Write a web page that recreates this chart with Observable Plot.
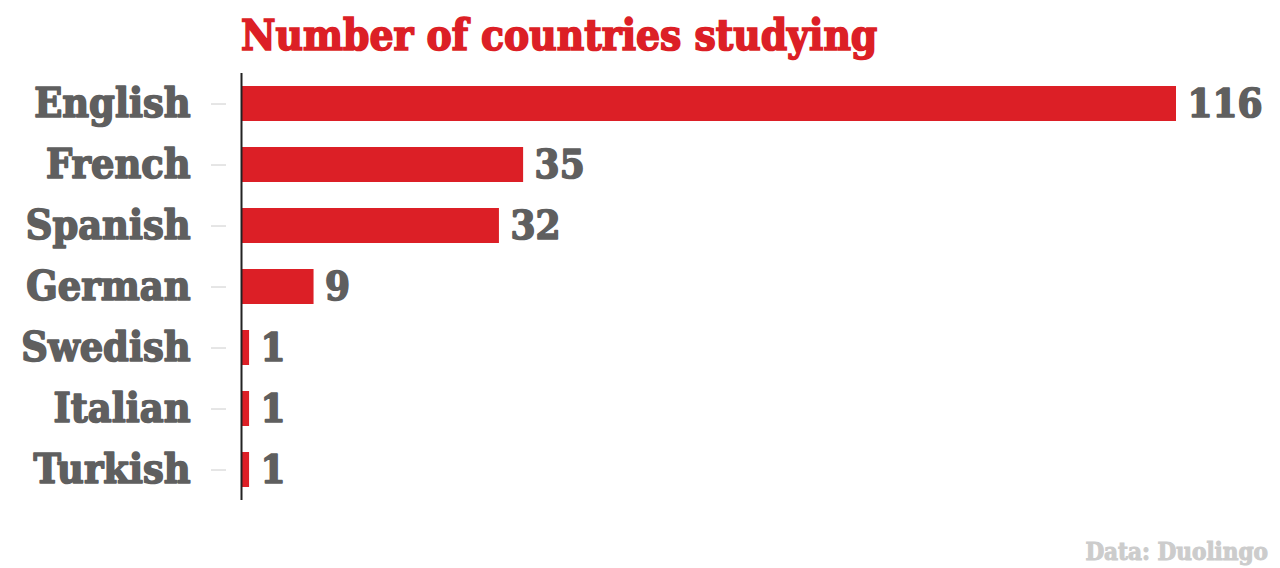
<!DOCTYPE html>
<html>
<head>
<meta charset="utf-8">
<script src="https://cdn.jsdelivr.net/npm/d3@7"></script>
<script src="https://cdn.jsdelivr.net/npm/@observablehq/plot@0.6"></script>
<style>
  html, body { margin: 0; padding: 0; background: #fff; width: 1280px; height: 568px; overflow: hidden; }
  .font { font-family: "DejaVu Serif Condensed", "DejaVu Serif", serif; font-weight: bold; }
  #title { position: absolute; left: 241px; top: 11px; font-size: 42px; color: #dc1f26; white-space: nowrap; letter-spacing: 0px; -webkit-text-stroke: 1.6px #dc1f26; }
  #chart { position: absolute; left: 0; top: 65px; }
  #chart text { stroke: #5f5f5f; stroke-width: 1.6px; stroke-linejoin: round; }
  #caption { position: absolute; right: 12px; top: 537px; font-size: 24px; color: #cccccc; -webkit-text-stroke: 1px #cccccc; }
</style>
</head>
<body>
<div id="title" class="font">Number of countries studying</div>
<div id="chart"></div>
<div id="caption" class="font">Data: Duolingo</div>
<script>
const languages = ["English", "French", "Spanish", "German", "Swedish", "Italian", "Turkish"];
const countries = [116, 35, 32, 9, 1, 1, 1];

const data = languages.map((lang, i) => ({lang, n: countries[i]}));
const fontFamily = '"DejaVu Serif Condensed", "DejaVu Serif", serif';

const chart = Plot.plot({
  width: 1280,
  height: 450,
  marginTop: 8,
  marginBottom: 15,
  marginLeft: 241,
  marginRight: 104,
  style: {fontFamily, background: "transparent"},
  x: {domain: [0, 116], axis: null},
  y: {domain: languages, paddingInner: 0.43, paddingOuter: 0.187, label: null},
  marks: [
    Plot.axisY({
      dx: -15,
      tickSize: 15,
      tickPadding: 21,
      stroke: "#cccccc",
      strokeOpacity: 1,
      fill: "#5f5f5f",
      fontSize: 41,
      fontWeight: "bold",
      label: null
    }),
    Plot.barX(data, {x: "n", y: "lang", fill: "#dc1f26"}),
    Plot.ruleX([0], {stroke: "#222", strokeWidth: 2}),
    Plot.text(data, {
      x: "n", y: "lang", text: d => String(d.n),
      textAnchor: "start", dx: 11, fill: "#5f5f5f",
      fontSize: 40, fontWeight: "bold"
    })
  ]
});
document.getElementById("chart").appendChild(chart);
</script>
</body>
</html>
